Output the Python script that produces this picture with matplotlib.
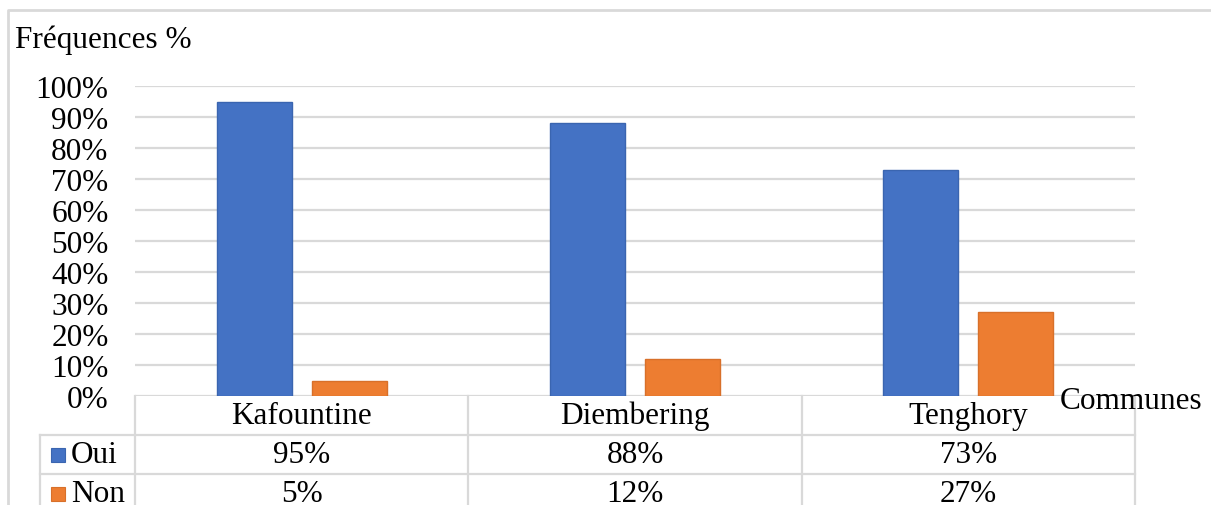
import numpy as np
import matplotlib
matplotlib.use("Agg")
import matplotlib.pyplot as plt
from matplotlib.patches import Rectangle
from matplotlib.lines import Line2D

# Data
communes = ["Kafountine", "Diembering", "Tenghory"]
series_names = ["Oui", "Non"]
oui = [0.95, 0.88, 0.73]
non = [0.05, 0.12, 0.27]
y_ticks = [0.0, 0.1, 0.2, 0.3, 0.4, 0.5, 0.6, 0.7, 0.8, 0.9, 1.0]

colors = ["#4472C4", "#ED7D31"]
edges = ["#3A65B0", "#D8702A"]
grid_col = "#D9D9D9"
FS = 22.5

plt.rcParams["font.family"] = ["Liberation Serif", "DejaVu Serif"]

W, H = 1211, 506
fig = plt.figure(figsize=(W / 100, H / 100), dpi=100)


def box(x0, y0, x1, y1):
    return [x0 / W, 1 - y1 / H, (x1 - x0) / W, (y1 - y0) / H]


# Chart area
ax = fig.add_axes(box(135, 87, 1135, 397))
x = np.arange(len(communes)) + 0.5
bw, off = 0.225, 0.1425
ax.bar(x - off, oui, bw, color=colors[0], edgecolor=edges[0], linewidth=1, zorder=3)
ax.bar(x + off, non, bw, color=colors[1], edgecolor=edges[1], linewidth=1, zorder=3)
ax.set_xlim(0, len(communes))
ax.set_ylim(0, 1)
ax.set_yticks(y_ticks)
ax.set_yticklabels([f"{round(v * 100)}%" for v in y_ticks], fontsize=FS)
ax.set_xticks([])
ax.tick_params(axis="y", length=0, pad=19)
ax.yaxis.grid(True, color=grid_col, linewidth=1.6)
ax.set_axisbelow(True)
for s in ax.spines.values():
    s.set_visible(False)

# Data table under the chart
row_h = 39
left_w = 95 / (1000 / len(communes))
tax = fig.add_axes(box(40, 397, 1135, 506))
tax.set_xlim(-left_w, len(communes))
tax.set_ylim(109 / row_h, 0)
tax.axis("off")
lk = dict(color=grid_col, linewidth=1.6, clip_on=False)
for i in range(len(communes) + 1):
    tax.plot([i, i], [0, 3], **lk)
tax.plot([-left_w, -left_w], [1, 3], **lk)
for r in (1, 2):
    tax.plot([-left_w, len(communes)], [r, r], **lk)

for i, c in enumerate(communes):
    tax.text(i + 0.5, 0.5, c, ha="center", va="center", fontsize=FS)
    tax.text(i + 0.5, 1.5, f"{round(oui[i] * 100)}%", ha="center", va="center", fontsize=FS)
    tax.text(i + 0.5, 2.5, f"{round(non[i] * 100)}%", ha="center", va="center", fontsize=FS)

# Legend keys in the table
for r, (name, col, ec) in enumerate(zip(series_names, colors, edges)):
    yc = 397 + row_h * (r + 1.5)
    fig.patches.append(Rectangle((51 / W, 1 - (yc + 7) / H), 14 / W, 14 / H,
                                 transform=fig.transFigure, facecolor=col,
                                 edgecolor=ec, linewidth=0.8))
    fig.text(71 / W, 1 - yc / H, name, ha="left", va="center", fontsize=FS)

# Axis titles
fig.text(15 / W, 1 - 40 / H, "Fréquences %", ha="left", va="center", fontsize=FS)
fig.text(1060 / W, 1 - 402 / H, "Communes", ha="left", va="center", fontsize=FS)

# Chart frame
fig.lines.append(Line2D([8 / W, 8 / W, 1.01], [-0.01, 1 - 11 / H, 1 - 11 / H],
                        transform=fig.transFigure, color=grid_col, linewidth=2))

fig.savefig("out.png", dpi=100)
